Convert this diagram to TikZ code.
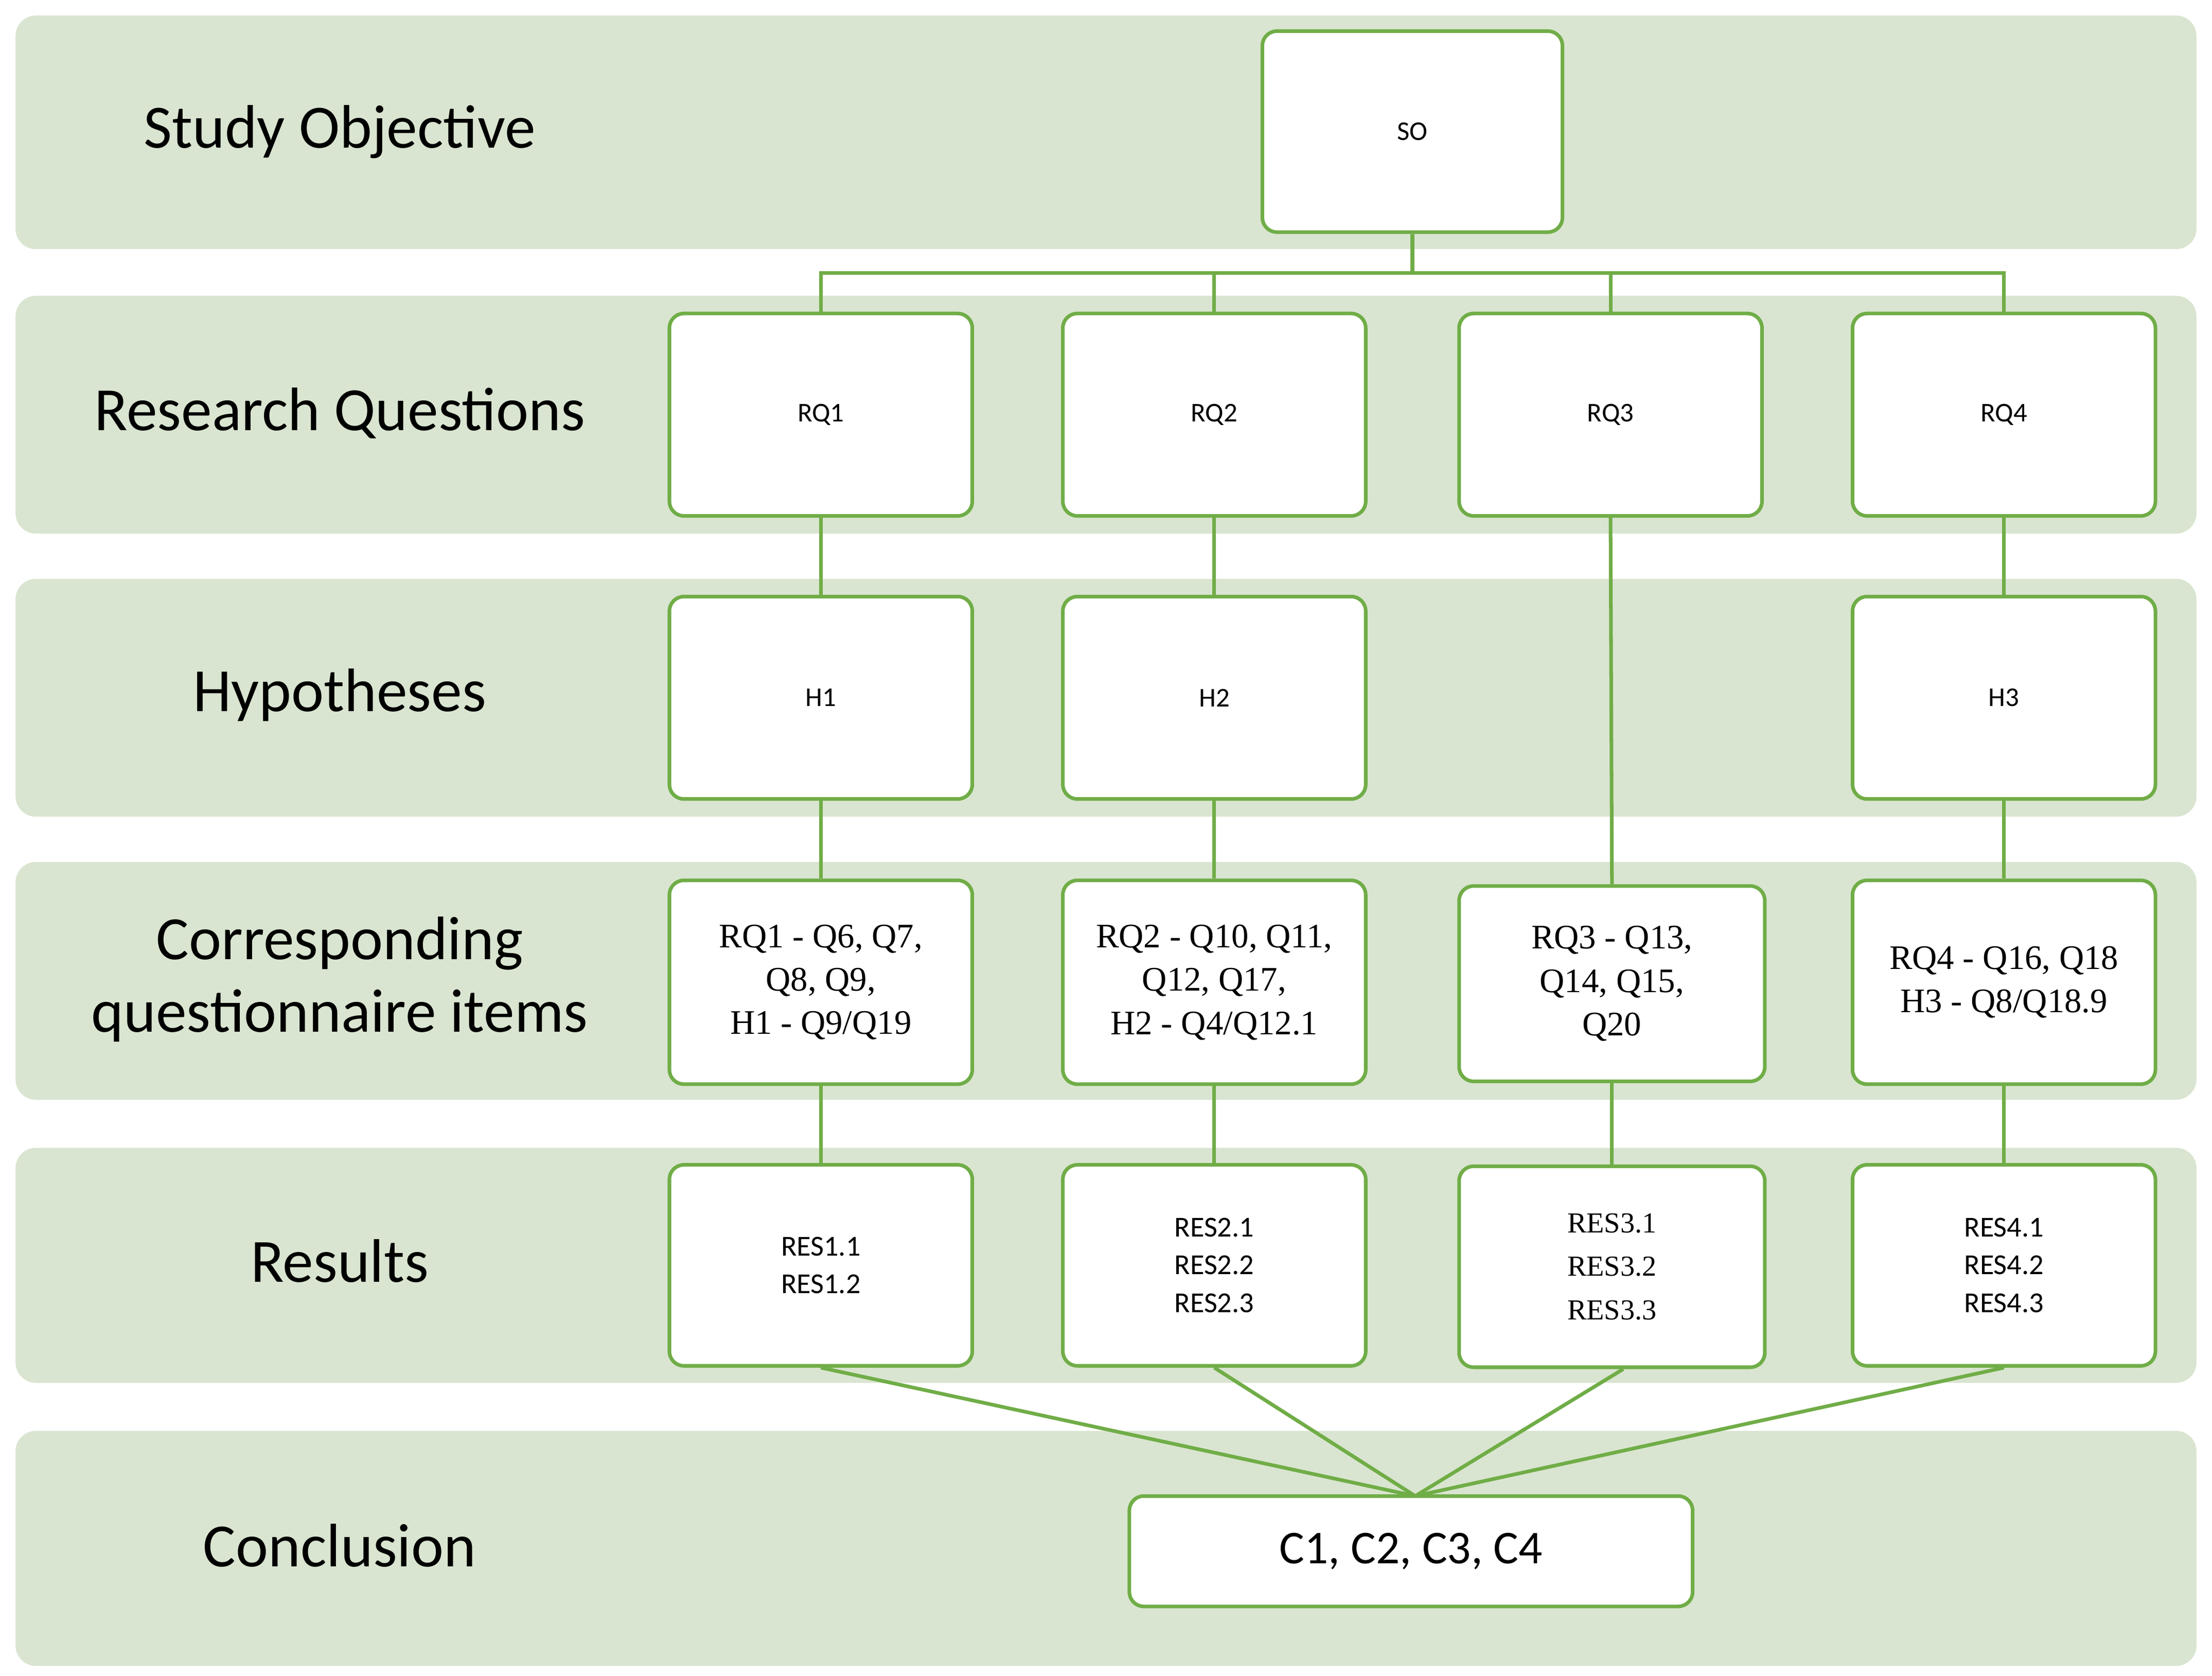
\documentclass[tikz,border=0pt]{standalone}
\usepackage{fontspec}
\setmainfont{Carlito}
\newfontfamily\serifx{Liberation Serif}
\begin{document}
\begin{tikzpicture}[x=0.0275cm,y=-0.0275cm,
  band/.style={fill=green!10!black!8!white, fill=bandc, draw=white, line width=1.5pt, rounded corners=12pt},
  box/.style={draw=lgreen, line width=2pt, fill=white, rounded corners=8pt, align=center, font=\fontsize{15}{18}\selectfont},
  lab/.style={align=center, font=\fontsize{34}{40}\selectfont},
  con/.style={draw=lgreen, line width=2pt}]
\definecolor{bandc}{HTML}{D9E5D0}
\definecolor{lgreen}{HTML}{70AD47}
\useasboundingbox (0,0) rectangle (1563,1184);
\foreach \t/\b in {10/177,208/378,408/578,608/778,810/978,1010/1178}
  \path[band] (10,\t) rectangle (1553,\b);
\node[lab] (l1) at (240,93) {Study Objective};
\node[lab] (l2) at (240,292) {Research Questions};
\node[lab] (l3) at (240,491) {Hypotheses};
\node[lab] (l4) at (240,692) {Corresponding\\questionnaire items};
\node[lab] (l5) at (240,891) {Results};
\node[lab] (l6) at (240,1092) {Conclusion};
% boxes
\node[box, minimum width=212*0.0275cm, minimum height=142*0.0275cm] (so) at (998,93) {SO};
\foreach \n/\x in {1/580,2/858,3/1138,4/1416}
  \node[box, minimum width=214*0.0275cm, minimum height=143*0.0275cm] (rq\n) at (\x,293) {RQ\n};
\node[box, minimum width=214*0.0275cm, minimum height=143*0.0275cm] (h1) at (580,493) {H1};
\node[box, minimum width=214*0.0275cm, minimum height=143*0.0275cm] (h2) at (858,493) {H2};
\node[box, minimum width=214*0.0275cm, minimum height=143*0.0275cm] (h3) at (1416,493) {H3};
\tikzset{qi/.style={box, minimum width=214*0.0275cm, minimum height=144*0.0275cm, font=\serifx\fontsize{19}{24}\selectfont}}
\node[qi] (q1) at (580,694) {RQ1 - Q6, Q7,\\Q8, Q9,\\H1 - Q9/Q19};
\node[qi] (q2) at (858,694) {RQ2 - Q10, Q11,\\Q12, Q17,\\H2 - Q4/Q12.1};
\node[qi, minimum width=216*0.0275cm, minimum height=138*0.0275cm] (q3) at (1139,695) {RQ3 - Q13,\\Q14, Q15,\\Q20};
\node[qi] (q4) at (1416,694) {RQ4 - Q16, Q18\\H3 - Q8/Q18.9};
\tikzset{rs/.style={box, minimum width=214*0.0275cm, minimum height=142*0.0275cm, font=\fontsize{16}{21}\selectfont}}
\node[rs] (r1) at (580,894) {RES1.1\\RES1.2};
\node[rs] (r2) at (858,894) {RES2.1\\RES2.2\\RES2.3};
\node[rs, minimum width=216*0.0275cm, font=\serifx\fontsize{16}{24}\selectfont] (r3) at (1139,895) {RES3.1\\RES3.2\\RES3.3};
\node[rs] (r4) at (1416,894) {RES4.1\\RES4.2\\RES4.3};
\node[box, minimum width=398*0.0275cm, minimum height=78*0.0275cm, font=\fontsize{26}{30}\selectfont] (c) at (997,1096) {C1, C2, C3, C4};
% connectors
\coordinate (bus) at (998,193);
\draw[con] (so.south) -- (bus);
\draw[con] (rq1.north) |- (bus) -| (rq4.north);
\draw[con] (rq2.north) -- (rq2.north |- bus);
\draw[con] (rq3.north) -- (rq3.north |- bus);
\draw[con] (rq1) -- (h1); \draw[con] (h1) -- (q1); \draw[con] (q1) -- (r1);
\draw[con] (rq2) -- (h2); \draw[con] (h2) -- (q2); \draw[con] (q2) -- (r2);
\draw[con] (rq3.south) -- (q3.north); \draw[con] (q3) -- (r3);
\draw[con] (rq4) -- (h3); \draw[con] (h3) -- (q4); \draw[con] (q4) -- (r4);
\coordinate (cj) at (1000,1057);
\draw[con] (r1.south) -- (cj);
\draw[con] (r2.south) -- (cj);
\draw[con] (r3.south) ++(8,0) -- (cj);
\draw[con] (r4.south) -- (cj);
\end{tikzpicture}
\end{document}
